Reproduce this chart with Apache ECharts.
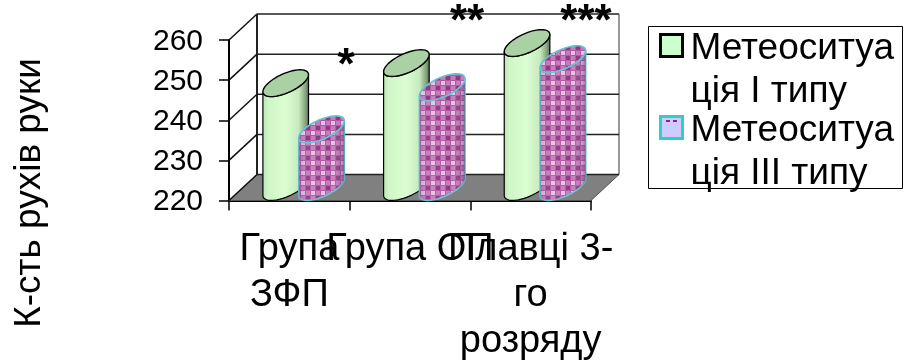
<!DOCTYPE html>
<html>
<head>
<meta charset="utf-8">
<style>html,body{margin:0;padding:0;background:#fff}#chart{width:904px;height:360px}</style>
<script src="https://cdn.jsdelivr.net/npm/echarts@6/dist/echarts.min.js"></script>
</head>
<body>
<div id="chart"></div>
<script>
// Bar values per group
const categories = ['Група\nЗФП', 'Група ОП', 'Плавці 3-\nго\nрозряду'];
const typeOneValues = [246, 251, 256];
const typeThreeValues = [234.5, 245, 252];
const yTicks = [220, 230, 240, 250, 260];
const seriesNames = ['Метеоситуація I типу', 'Метеоситуація III типу'];
const legendLines = {
  'Метеоситуація I типу': '\nМетеоситуа\nція I типу',
  'Метеоситуація III типу': '\nМетеоситуа\nція III типу'
};
const yTitle = 'К-сть рухів руки';
const significance = ['*', '**', '***'];

const FONT = '"Liberation Sans", Arial, sans-serif';

// Legend swatch: the square sits in the upper part of the symbol box
const SWATCH = 'path://M0,0H22V22H0Z M0,28L0,28';

// Oblique projection of the chart depth
const DEPTH_X = 28, DEPTH_Y = 26;
// Cylinder ellipse terms: width term, depth skew, depth height
const EA = 17.6, EB = 14.5, EC = 13.4;
const T0 = Math.atan2(EB, EA);

function ellipsePoint(cx, cy, t) {
  return [cx + EA * Math.cos(t) + EB * Math.sin(t), cy - EC * Math.sin(t)];
}
function arc(cx, cy, from, to, n) {
  const pts = [];
  for (let i = 0; i <= n; i++) pts.push(ellipsePoint(cx, cy, from + (to - from) * i / n));
  return pts;
}

// Checked weave used on the second series
function weave() {
  const c = document.createElement('canvas');
  c.width = 10; c.height = 10;
  const g = c.getContext('2d');
  g.fillStyle = '#b45aa4'; g.fillRect(0, 0, 10, 10);
  g.fillStyle = '#e6c2e8'; g.fillRect(1, 1, 4, 4);
  g.fillStyle = '#8c3a82'; g.fillRect(6, 6, 4, 4);
  g.fillStyle = '#c67cba'; g.fillRect(6, 1, 4, 4); g.fillRect(1, 6, 4, 4);
  return c;
}
const weaveFill = { image: weave(), repeat: 'repeat' };

function cylinderRenderer(kind, offsetRatio) {
  return function (params, api) {
    const idx = api.value(0);
    const top = api.coord([idx, api.value(1)]);
    const base = api.coord([idx, 220]);
    const slot = api.size([1, 0])[0];
    const cx = top[0] + slot * offsetRatio;
    const baseY = base[1] - DEPTH_Y / 2 - 0.5;
    const topY = top[1] - DEPTH_Y / 2;
    const front = arc(cx, baseY, T0, T0 - Math.PI, 24);
    const frontTop = arc(cx, topY, T0 - Math.PI, T0, 24);
    const body = front.concat(frontTop);
    const cap = arc(cx, topY, 0, Math.PI * 2, 48);
    const shape = { points: body };
    if (kind === 'green') {
      return {
        type: 'group',
        children: [
          { type: 'polygon', shape: shape, style: {
              fill: { type: 'linear', x: 0, y: 0, x2: 1, y2: 0, colorStops: [
                { offset: 0, color: '#b9e4b0' }, { offset: 0.12, color: '#cff6c6' },
                { offset: 0.5, color: '#dbfdd2' }, { offset: 0.78, color: '#c5eabc' },
                { offset: 0.92, color: '#86a382' }, { offset: 1, color: '#4f6a4e' }] },
              stroke: '#000', lineWidth: 1.2 } },
          { type: 'polygon', shape: { points: cap }, style: { fill: '#a9d1a3', stroke: '#000', lineWidth: 1.4 } }
        ]
      };
    }
    return {
      type: 'group',
      children: [
        { type: 'polygon', shape: shape, style: { fill: weaveFill, stroke: '#63c4d2', lineWidth: 1.6 } },
        { type: 'polygon', shape: shape, style: {
            fill: { type: 'linear', x: 0, y: 0, x2: 1, y2: 0, colorStops: [
              { offset: 0, color: 'rgba(90,20,90,0.18)' }, { offset: 0.25, color: 'rgba(255,255,255,0.06)' },
              { offset: 0.7, color: 'rgba(255,255,255,0)' }, { offset: 1, color: 'rgba(60,10,70,0.4)' }] } } },
        { type: 'polygon', shape: { points: cap }, style: { fill: weaveFill, stroke: '#63c4d2', lineWidth: 1.6 } }
      ]
    };
  };
}

// Back wall, side wall, floor and gridlines of the box
function frameRenderer(params, api) {
  const v = api.value(1);
  const p = api.coord([0, v]);
  const cs = params.coordSys;
  const x0 = cs.x, x1 = cs.x + cs.width;
  const y = p[1];
  const wallX0 = x0 + DEPTH_X, wallX1 = x1 + DEPTH_X, wallY = y - DEPTH_Y;
  const children = [];
  if (v === yTicks[0]) {
    children.push({ type: 'polygon', shape: { points: [[x0, y], [wallX0, wallY], [wallX1, wallY], [x1, y]] },
      style: { fill: '#808080', stroke: '#555', lineWidth: 1 } });
    children.push({ type: 'line', shape: { x1: wallX0, y1: wallY, x2: wallX0, y2: wallY - cs.height },
      style: { stroke: '#222', lineWidth: 2 } });
    children.push({ type: 'line', shape: { x1: wallX1, y1: wallY, x2: wallX1, y2: wallY - cs.height },
      style: { stroke: '#777', lineWidth: 1.5 } });
  }
  children.push({ type: 'line', shape: { x1: wallX0, y1: wallY, x2: wallX1, y2: wallY },
    style: { stroke: '#222', lineWidth: 1.5 } });
  children.push({ type: 'line', shape: { x1: x0, y1: y, x2: wallX0, y2: wallY },
    style: { stroke: '#111', lineWidth: 1.5 } });
  return { type: 'group', children: children };
}

const chart = echarts.init(document.getElementById('chart'), null, { renderer: 'canvas' });

chart.setOption({
  animation: false,
  backgroundColor: '#fff',
  grid: { left: 229, top: 40, width: 362, height: 160.5, outerBoundsMode: 'none' },
  legend: {
    left: 659, top: -16, orient: 'vertical', align: 'left',
    itemWidth: 22, itemHeight: 28, itemGap: -47, padding: 0,
    selectedMode: false,
    formatter: function (name) { return legendLines[name]; },
    textStyle: { fontFamily: FONT, fontSize: 37, lineHeight: 43, color: '#000', padding: [0, 0, 0, 3] },
    data: [
      { name: seriesNames[0], icon: SWATCH, itemStyle: { color: '#ccffcc', borderColor: '#000', borderWidth: 3 } },
      { name: seriesNames[1], icon: SWATCH, itemStyle: { color: '#ccccff', borderColor: '#33cccc', borderWidth: 3 } }
    ]
  },
  xAxis: {
    type: 'category', data: categories,
    axisLine: { onZero: false, lineStyle: { color: '#000', width: 2 } },
    axisTick: { show: true, length: 10, alignWithLabel: false, lineStyle: { color: '#000', width: 1.5 } },
    axisLabel: { interval: 0, margin: 26, fontFamily: FONT, fontSize: 38, lineHeight: 46, color: '#000', hideOverlap: false }
  },
  yAxis: {
    type: 'value', min: yTicks[0], max: yTicks[yTicks.length - 1], interval: 10,
    splitLine: { show: false },
    axisLine: { show: true, lineStyle: { color: '#000', width: 2 } },
    axisTick: { show: true, length: 10, lineStyle: { color: '#000', width: 1.5 } },
    axisLabel: { margin: 26, fontFamily: FONT, fontSize: 30, color: '#000', verticalAlign: 'top', lineHeight: 3 }
  },
  graphic: [
    { type: 'rect', shape: { x: 648.5, y: 26.5, width: 254, height: 162 }, z: 1,
      style: { fill: 'none', stroke: '#000', lineWidth: 1 } },
    { type: 'rect', shape: { x: 666, y: 120, width: 4, height: 2 }, z: 10, style: { fill: '#8b2a6b' } },
    { type: 'rect', shape: { x: 673, y: 120, width: 4, height: 2 }, z: 10, style: { fill: '#8b2a6b' } },
    { type: 'text', x: 30, y: 193, rotation: Math.PI / 2, z: 10,
      style: { text: yTitle, font: '37px ' + FONT, fill: '#000', align: 'center', verticalAlign: 'middle' } },
    { type: 'text', x: 346, y: 67, z: 10,
      style: { text: significance[0], font: 'bold 44px ' + FONT, fill: '#000', align: 'center', verticalAlign: 'middle' } },
    { type: 'text', x: 467, y: 23, z: 10,
      style: { text: significance[1], font: 'bold 44px ' + FONT, fill: '#000', align: 'center', verticalAlign: 'middle' } },
    { type: 'text', x: 586, y: 23, z: 10,
      style: { text: significance[2], font: 'bold 44px ' + FONT, fill: '#000', align: 'center', verticalAlign: 'middle' } }
  ],
  series: [
    { type: 'custom', name: 'box', z: 1, silent: true, renderItem: frameRenderer,
      encode: { x: 0, y: 1 }, data: yTicks.map(function (v) { return [0, v]; }) },
    { type: 'custom', name: seriesNames[0], z: 2, renderItem: cylinderRenderer('green', -0.03),
      encode: { x: 0, y: 1 }, itemStyle: { color: '#ccffcc' },
      data: typeOneValues.map(function (v, i) { return [i, v]; }) },
    { type: 'custom', name: seriesNames[1], z: 3, renderItem: cylinderRenderer('purple', 0.267),
      encode: { x: 0, y: 1 }, itemStyle: { color: '#ccccff' },
      data: typeThreeValues.map(function (v, i) { return [i, v]; }) }
  ]
});
</script>
</body>
</html>
